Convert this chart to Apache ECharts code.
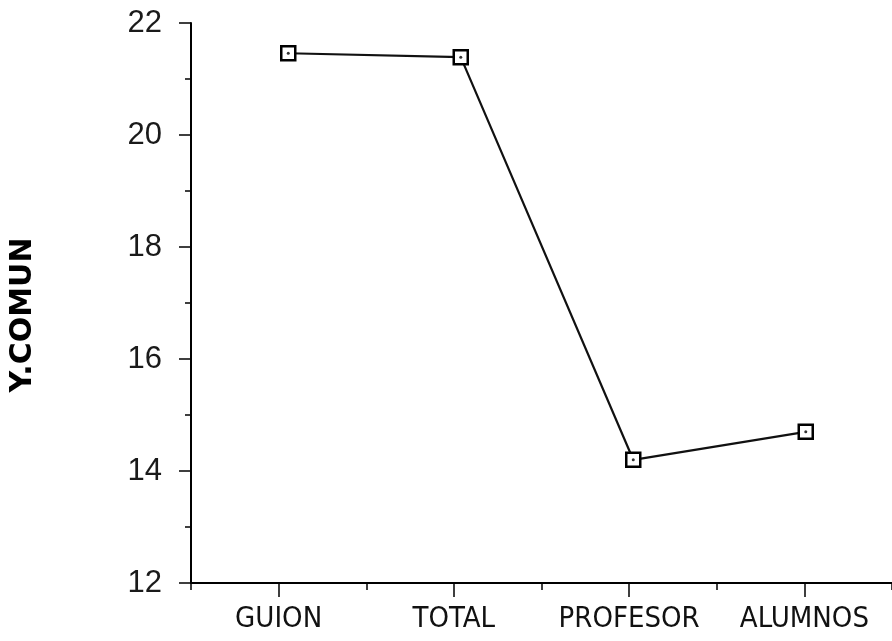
<!DOCTYPE html>
<html>
<head>
<meta charset="utf-8">
<script src="https://cdn.jsdelivr.net/npm/echarts@6/dist/echarts.min.js"></script>
<style>html,body{margin:0;padding:0;background:#fff}#c{width:892px;height:641px}</style>
</head>
<body>
<div id="c"></div>
<script>
const categories = ['GUION', 'TOTAL', 'PROFESOR', 'ALUMNOS'];
const values = [21.46, 21.39, 14.20, 14.70];
const yTicks = [12, 14, 16, 18, 20, 22];

const yMin = yTicks[0], yMax = yTicks[yTicks.length - 1];

const chart = echarts.init(document.getElementById('c'));
chart.setOption({
  animation: false,
  backgroundColor: '#fff',
  grid: [
    { left: 191, right: -7, top: 23, bottom: 58, containLabel: false },
    { left: 202, right: -18, top: 23, bottom: 58, containLabel: false }
  ],
  xAxis: [{
    type: 'category',
    gridIndex: 0,
    data: categories,
    boundaryGap: true,
    axisLine: { lineStyle: { color: '#000', width: 2 } },
    axisTick: { show: false },
    axisLabel: { interval: 0, hideOverlap: false, color: '#111', fontFamily: 'DejaVu Sans Condensed', fontSize: 29, margin: 22 },
    splitLine: { show: false }
  }, {
    type: 'value',
    gridIndex: 0,
    min: 0, max: categories.length, interval: 1,
    position: 'bottom',
    axisLine: { show: false },
    axisTick: { show: true, length: 7, lineStyle: { color: '#000', width: 1.5 } },
    minorTick: { show: true, splitNumber: 2, length: 14, lineStyle: { color: '#000', width: 1.5 } },
    axisLabel: { show: false },
    splitLine: { show: false }
  }, {
    type: 'category',
    gridIndex: 1,
    data: categories,
    boundaryGap: true,
    show: false
  }],
  yAxis: [{
    type: 'value',
    gridIndex: 0,
    min: yMin, max: yMax, interval: 2,
    name: 'Y.COMUN',
    nameLocation: 'middle',
    nameGap: 153,
    nameRotate: 90,
    nameTextStyle: { color: '#000', fontWeight: 'bold', fontSize: 30, fontFamily: 'DejaVu Sans', padding: [0, 24, 0, 0] },
    axisLine: { show: true, lineStyle: { color: '#000', width: 2 } },
    axisTick: { show: true, length: 12, lineStyle: { color: '#000', width: 1.5 } },
    minorTick: { show: true, splitNumber: 2, length: 6, lineStyle: { color: '#000', width: 1.5 } },
    axisLabel: { color: '#1a1a1a', fontSize: 31, fontFamily: 'Liberation Sans', margin: 29 },
    splitLine: { show: false }
  }, {
    type: 'value',
    gridIndex: 1,
    min: yMin, max: yMax, interval: 2,
    show: false
  }],
  series: [{
    type: 'line',
    xAxisIndex: 2,
    yAxisIndex: 1,
    data: values,
    symbol: 'rect',
    symbolSize: 14,
    itemStyle: { color: '#fff', borderColor: '#000', borderWidth: 2.5 },
    lineStyle: { color: '#111', width: 2.2 },
    z: 3
  }, {
    type: 'scatter',
    xAxisIndex: 2,
    yAxisIndex: 1,
    data: values,
    symbol: 'circle',
    symbolSize: 3,
    itemStyle: { color: '#000' },
    z: 4
  }]
});
</script>
</body>
</html>
